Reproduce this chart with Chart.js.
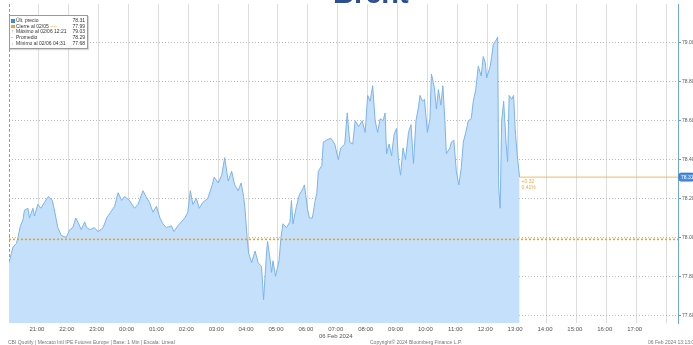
<!DOCTYPE html>
<html>
<head>
<meta charset="utf-8">
<script src="https://cdn.jsdelivr.net/npm/chart.js@4.4.1/dist/chart.umd.min.js"></script>
<style>
  body { margin: 0; background: #fff; font-family: "Liberation Sans", Arial, sans-serif; }
  #wrap { position: relative; width: 693px; height: 345px; overflow: hidden; }
  #title { position: absolute; left: 333px; top: -21px; font-size: 29px; line-height: 29px; font-weight: bold; color: #2b4f92; }
  #legend { position: absolute; left: 9px; top: 15px; width: 79px; height: 34px; border: 1px solid #9a9a9a; background: #fff;
            box-shadow: 1px 1px 1px rgba(0,0,0,0.15); font-size: 5px; color: #333; padding-top: 2px; box-sizing: border-box; }
  #legend .row { position: relative; height: 5.7px; line-height: 5.7px; }
  #legend .ico { position: absolute; left: 1px; top: 1px; width: 3.5px; height: 3.5px; }
  #legend .lbl { position: absolute; left: 6px; white-space: nowrap; }
  #legend .val { position: absolute; right: 2px; }
  .foot { position: absolute; top: 339px; font-size: 5px; line-height: 6px; color: #777; white-space: nowrap; }
</style>
</head>
<body>
<div id="wrap">
  <canvas id="myChart" width="693" height="345"></canvas>
  <div id="title">Brent</div>
  <div id="legend"></div>
  <div class="foot" style="left:8px">CBI Quotify | Mercato Intl IPE Futures Europe | Base: 1 Min | Escala: Lineal</div>
  <div class="foot" style="left:370px">Copyright© 2024 Bloomberg Finance L.P.</div>
  <div class="foot" style="left:648px">06 Feb 2024 13:13:03</div>
</div>
<script>
// price data (05 Feb 20:00 -> 06 Feb 13:05)
const times = [
  '20:00','20:05','20:08','20:15','20:18','20:23','20:28','20:31','20:38','20:41','20:48','20:51','20:58',
  '21:04','21:11','21:19','21:27','21:32','21:38','21:45','21:55',
  '22:02','22:08','22:14','22:20','22:25','22:32','22:36','22:43','22:51','22:59',
  '23:09','23:16','23:24','23:32','23:39','23:46','23:52',
  '00:02','00:12','00:19','00:29','00:35','00:42','00:49','00:56',
  '01:03','01:09','01:16','01:26','01:31','01:39','01:46','01:53','01:59',
  '02:04','02:09','02:16','02:22','02:29','02:39','02:48','02:52',
  '03:00','03:07','03:13','03:20','03:27','03:33','03:40','03:46','03:51','03:54','03:58',
  '04:01','04:07','04:14','04:20','04:27','04:31','04:37','04:39','04:44','04:47','04:50','04:55',
  '05:02','05:06','05:10','05:17','05:24','05:27','05:30','05:37','05:43','05:50','05:53','05:59',
  '06:03','06:09','06:14','06:18','06:21','06:28','06:31','06:37','06:46','06:54',
  '07:01','07:06','07:14','07:19','07:24','07:30','07:35','07:42','07:49','07:55',
  '08:00','08:05','08:10','08:15','08:20','08:25','08:31','08:35','08:38','08:43','08:48','08:53','08:58',
  '09:02','09:06','09:11','09:16','09:22','09:27','09:32','09:37','09:42','09:45','09:50','09:54',
  '10:00','10:05','10:08','10:14','10:18','10:22','10:27','10:31','10:35','10:38','10:45','10:48','10:53','10:58',
  '11:03','11:08','11:12','11:17','11:22','11:28','11:32','11:37','11:42','11:48','11:52','11:56','11:59',
  '12:06','12:09','12:12','12:17','12:21','12:23','12:26','12:29','12:33','12:38','12:41','12:44','12:49','12:53','12:56',
  '13:00','13:05'
];
const prices = [
  77.87,77.92,77.95,77.97,78.00,78.06,78.09,78.14,78.15,78.10,78.15,78.11,78.17,
  78.15,78.18,78.21,78.19,78.13,78.05,78.01,78.00,
  78.04,78.05,78.10,78.07,78.04,78.08,78.05,78.04,78.05,78.03,
  78.05,78.10,78.13,78.16,78.23,78.19,78.21,
  78.19,78.15,78.17,78.24,78.21,78.18,78.13,78.16,
  78.10,78.07,78.05,78.06,78.03,78.06,78.08,78.10,78.13,
  78.24,78.17,78.20,78.15,78.18,78.20,78.27,78.31,
  78.28,78.32,78.41,78.29,78.34,78.27,78.24,78.28,78.21,78.14,78.00,
  77.92,77.87,77.93,77.87,77.85,77.68,77.92,77.98,77.89,77.82,77.88,77.80,
  77.88,78.00,78.07,78.05,78.08,78.19,78.07,78.16,78.22,78.25,78.27,78.15,
  78.10,78.10,78.18,78.23,78.34,78.37,78.49,78.50,78.51,78.48,
  78.40,78.46,78.48,78.64,78.49,78.48,78.60,78.57,78.60,78.54,
  78.73,78.70,78.78,78.60,78.54,78.61,78.60,78.64,78.43,78.48,78.42,78.53,78.56,
  78.39,78.32,78.46,78.40,78.54,78.58,78.38,78.60,78.67,78.73,78.70,78.71,
  78.54,78.61,78.84,78.77,78.66,78.76,78.68,78.78,78.60,78.43,78.46,78.49,78.50,78.34,
  78.27,78.36,78.49,78.54,78.60,78.61,78.70,78.76,78.88,78.83,78.93,78.90,78.82,
  78.88,78.93,78.99,79.01,79.03,78.26,78.15,78.60,78.70,78.48,78.39,78.73,78.71,78.73,78.56,
  78.43,78.31
];

const prevClose = 77.99;   // cierre al 02/05
const avgPrice = 78.29;    // promedio

const xTicks = ['21:00','22:00','23:00','00:00','01:00','02:00','03:00','04:00','05:00','06:00',
                '07:00','08:00','09:00','10:00','11:00','12:00','13:00','14:00','15:00','16:00','17:00','18:00'];
const yTicks = [77.6, 77.8, 78.0, 78.2, 78.4, 78.6, 78.8, 79.0];

// minutes since 20:00 of 05 Feb
function toMin(t) {
  var p = t.split(':');
  var h = parseInt(p[0]);
  if (h < 20) h += 24;
  return (h - 20) * 60 + parseInt(p[1]);
}

const pts = times.map((t, i) => ({ x: toMin(t), y: prices[i] }));
const xMax = 1343;
const last = prices[prices.length - 1];
const lastX = toMin(times[times.length - 1]);
const hi = Math.max(...prices);
const lo = Math.min(...prices);
const hiT = times[prices.indexOf(hi)];
const loT = times[prices.indexOf(lo)];

// legend box
const legendRows = [
  { ico: '<span class="ico" style="background:#3d8be0"></span>', lbl: 'Últ. precio', val: last },
  { ico: '<span class="ico" style="background:#f0a030"></span>', lbl: 'Cierre al 02/05 <span style="color:#f0a030">----</span>', val: prevClose },
  { ico: '<span class="ico" style="color:#999;top:0;font-size:5px;line-height:5px">↑</span>', lbl: 'Máximo al 02/06 ' + hiT, val: hi },
  { ico: '<span class="ico" style="color:#777;top:0;font-size:5px;line-height:5px">-</span>', lbl: 'Promedio', val: avgPrice },
  { ico: '<span class="ico" style="color:#999;top:0;font-size:5px;line-height:5px">↓</span>', lbl: 'Mínimo al 02/06 ' + loT, val: lo }
];
var html = '';
legendRows.forEach(function (r) {
  html += '<div class="row">' + r.ico + '<span class="lbl">' + r.lbl + '</span><span class="val">' + r.val.toFixed(2) + '</span></div>';
});
document.getElementById('legend').innerHTML = html;

// dashed left edge + last price tag on the right axis
const extras = {
  id: 'extras',
  beforeDatasetsDraw(chart) {
    const ctx = chart.ctx, a = chart.chartArea;
    ctx.save();
    ctx.strokeStyle = '#9a9a9a';
    ctx.lineWidth = 1;
    ctx.setLineDash([3, 2]);
    ctx.beginPath();
    ctx.moveTo(a.left + 0.5, a.top);
    ctx.lineTo(a.left + 0.5, a.bottom);
    ctx.stroke();
    ctx.restore();
  },
  afterDraw(chart) {
    const ctx = chart.ctx;
    const ys = chart.scales.y;
    const y = ys.getPixelForValue(last);
    ctx.save();
    // value tag
    ctx.fillStyle = '#4a8fdc';
    ctx.strokeStyle = '#2e6cb5';
    ctx.lineWidth = 0.8;
    ctx.beginPath();
    ctx.roundRect(ys.left + 1, y - 4, 15, 8, 2);
    ctx.fill();
    ctx.stroke();
    ctx.fillStyle = '#fff';
    ctx.font = '5px "Liberation Sans", Arial';
    ctx.textBaseline = 'middle';
    ctx.fillText(last.toFixed(2), ys.left + 3, y + 0.5);
    // change since close
    const chg = last - prevClose;
    const x = chart.scales.x.getPixelForValue(lastX) + 2;
    ctx.fillStyle = '#e9a94c';
    ctx.fillText('+' + chg.toFixed(2), x, y + 5);
    ctx.fillText((chg / prevClose * 100).toFixed(2) + '%', x, y + 11);
    ctx.restore();
  }
};

const config = {
  type: 'line',
  data: {
    datasets: [
      {
        label: 'Cierre',
        data: [{ x: 0, y: prevClose }, { x: xMax, y: prevClose }],
        borderColor: '#f0a020',
        borderWidth: 1.6,
        borderDash: [2, 2],
        pointRadius: 0,
        order: 0
      },
      {
        label: 'Últ',
        data: [{ x: lastX, y: last }, { x: xMax, y: last }],
        borderColor: '#f2bc5a',
        borderWidth: 1,
        pointRadius: 0,
        order: 0
      },
      {
        label: 'Brent',
        data: pts,
        borderColor: '#7cb3ec',
        backgroundColor: '#c4e0fb',
        borderWidth: 1,
        pointRadius: 0,
        fill: 'start',
        tension: 0,
        order: 1
      }
    ]
  },
  options: {
    responsive: false,
    animation: false,
    layout: { padding: { left: 9, top: 1, right: 0, bottom: 0 } },
    plugins: { legend: { display: false }, tooltip: { enabled: false } },
    scales: {
      x: {
        type: 'linear',
        min: 0,
        max: xMax,
        afterBuildTicks: function (s) { s.ticks = xTicks.map(t => ({ value: toMin(t) })); },
        afterFit: function (s) { s.height = 22; },
        ticks: {
          autoSkip: false,
          maxRotation: 0,
          padding: 3,
          labelOffset: -2,
          color: '#555',
          font: { size: 6, family: '"Liberation Sans", Arial' },
          callback: function (v, i) {
            var lbl = xTicks[i];
            if (lbl == '18:00') return '';
            if (lbl == '07:00') return [lbl, '06 Feb 2024'];
            return lbl;
          }
        },
        grid: { color: '#dddddd', drawTicks: false },
        border: { display: false }
      },
      y: {
        position: 'right',
        min: 77.56,
        max: 79.2,
        afterBuildTicks: function (s) { s.ticks = yTicks.map(v => ({ value: v })); },
        afterFit: function (s) { s.width = 15; },
        ticks: {
          padding: 1,
          color: '#555',
          font: { size: 5, family: '"Liberation Sans", Arial' },
          callback: function (v) { return v.toFixed(2); }
        },
        grid: { color: '#b9b9b9', tickColor: '#5b9bd5', tickLength: 3 },
        border: { color: '#6fa6dc', dash: [1, 2] }
      }
    }
  },
  plugins: [extras]
};

const myChart = new Chart(document.getElementById('myChart'), config);
</script>
</body>
</html>
